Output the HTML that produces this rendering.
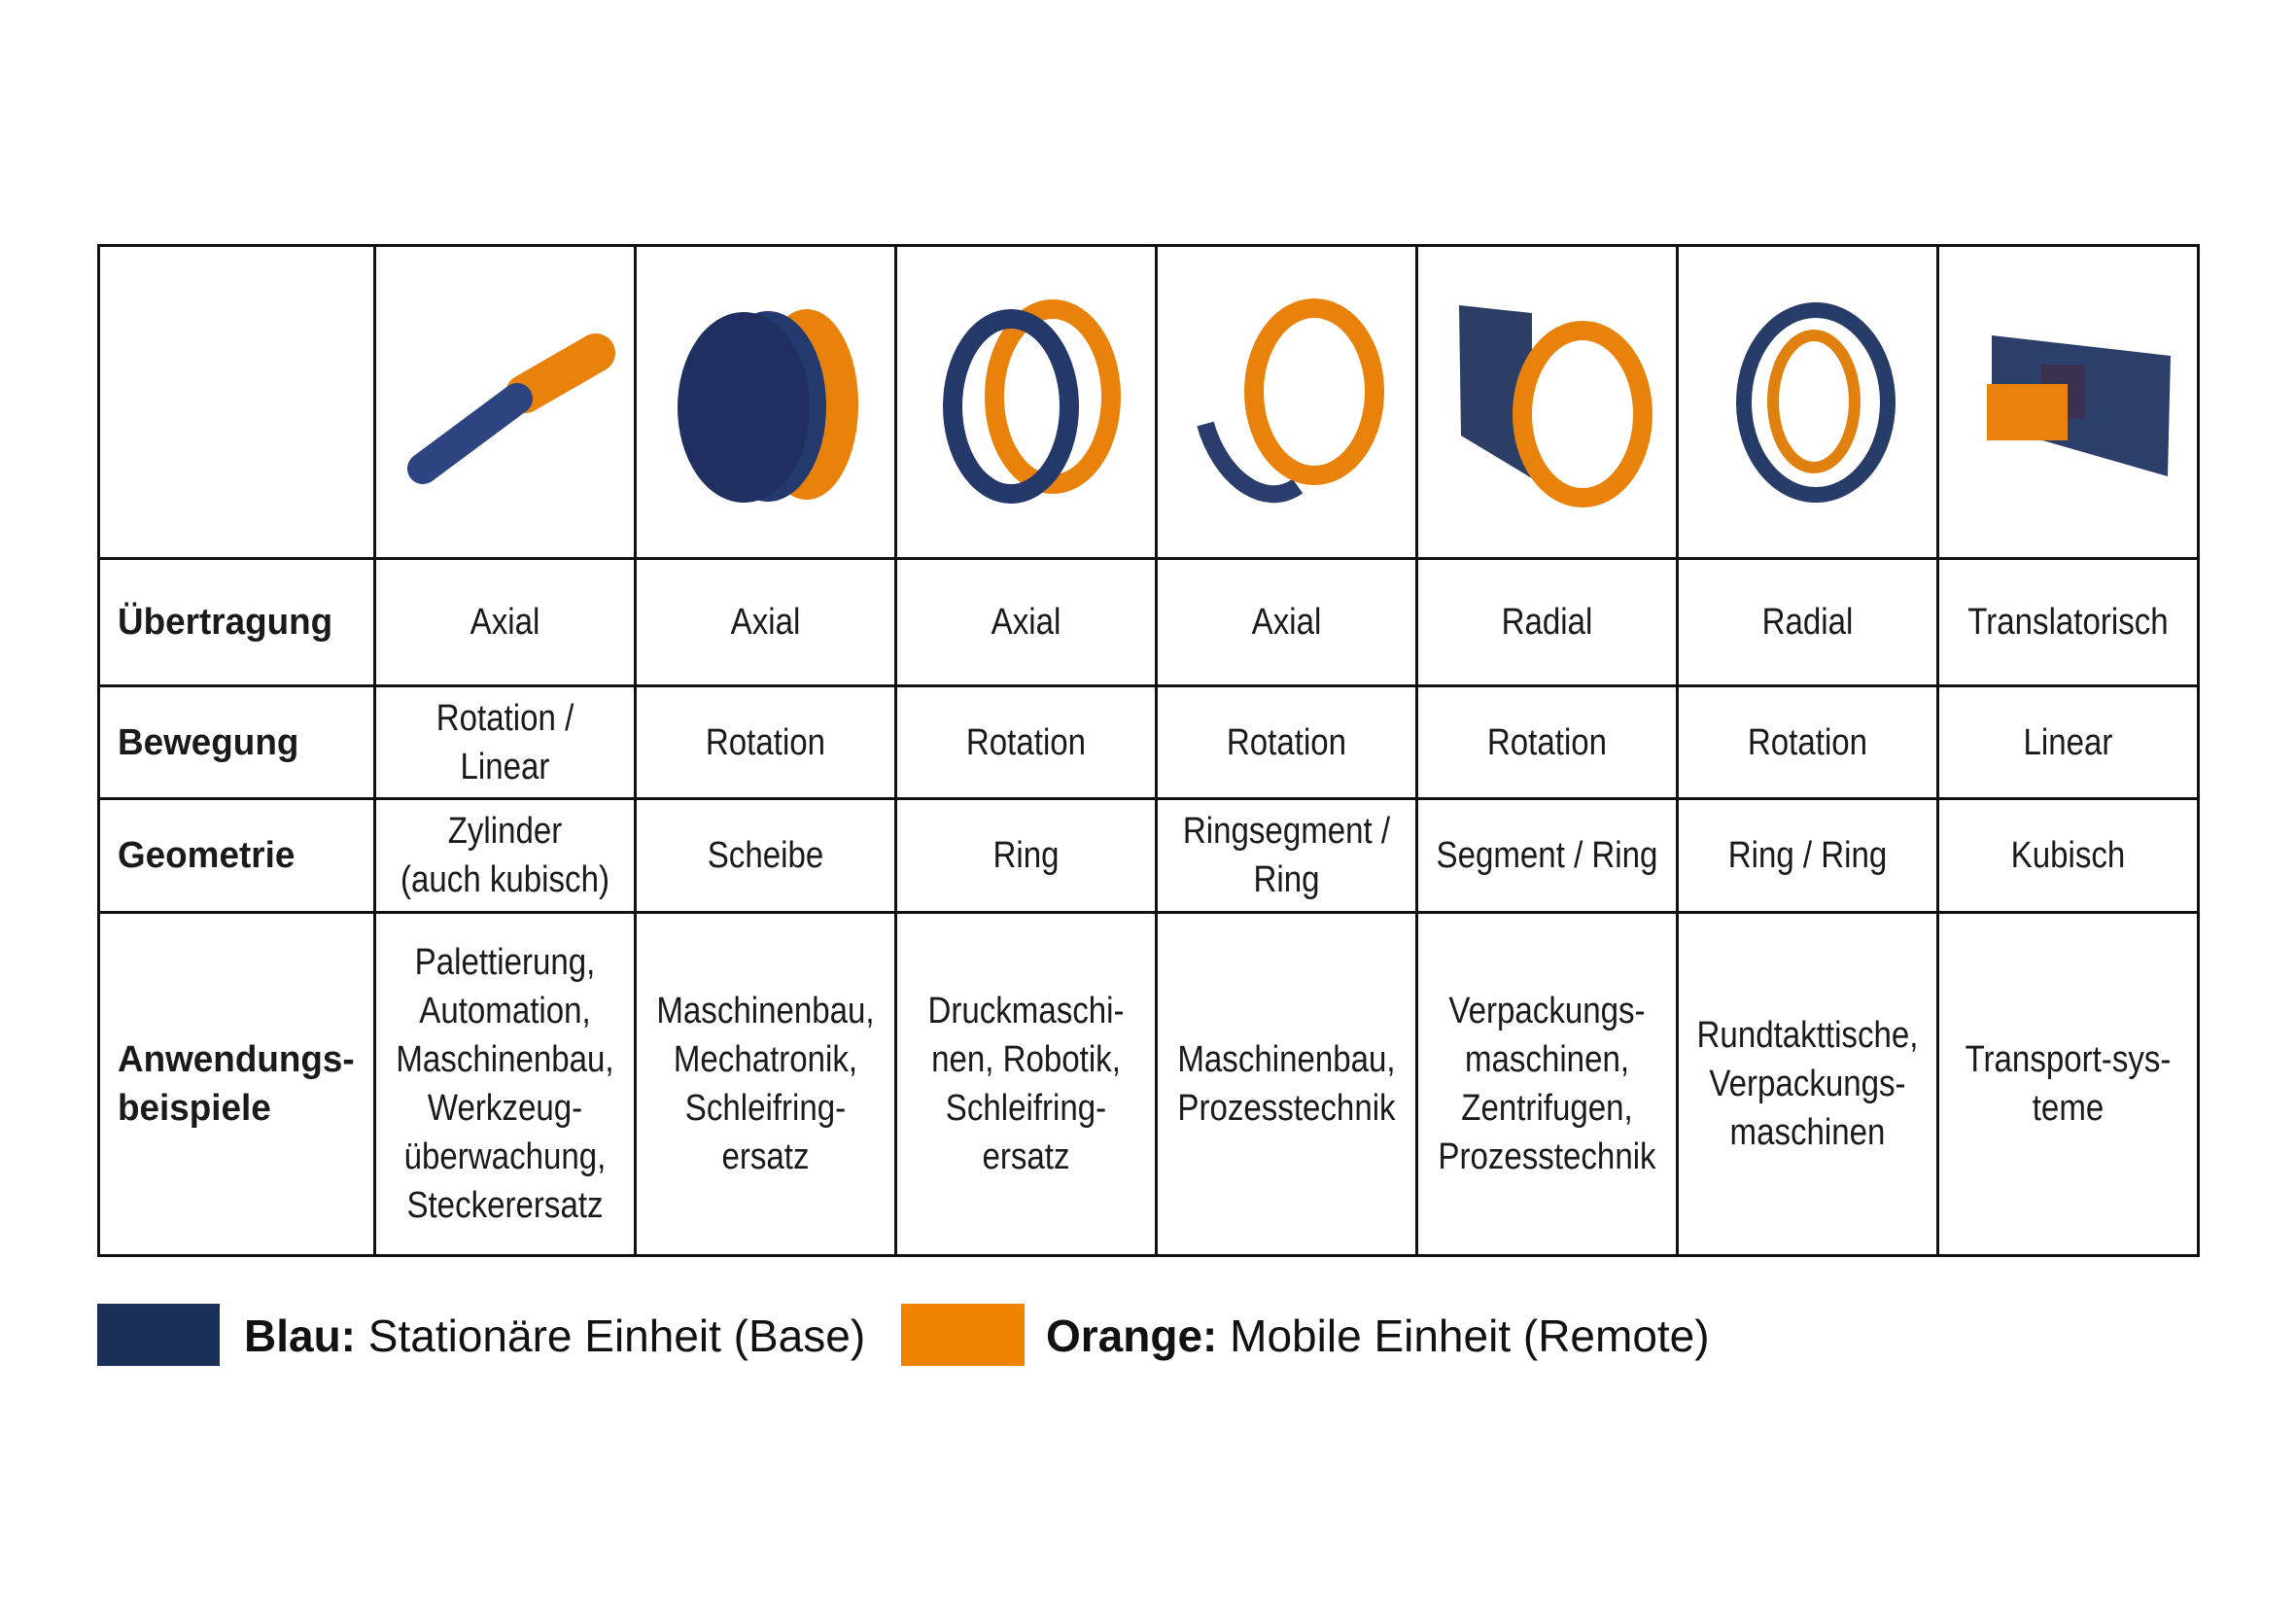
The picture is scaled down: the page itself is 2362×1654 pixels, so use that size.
<!DOCTYPE html>
<html><head><meta charset="utf-8"><style>
body{margin:0;width:2362px;height:1654px;background:#fff;position:relative;overflow:hidden;font-family:"Liberation Sans",sans-serif;}
table{position:absolute;left:100px;top:251px;border-collapse:collapse;table-layout:fixed;width:2160px;}
td{border:3px solid #111;text-align:center;vertical-align:middle;font-size:38px;line-height:50px;color:#1a1a1a;padding:0;overflow:visible;white-space:nowrap;}
td div{transform:scaleX(0.87);transform-origin:center;}
td.h{text-align:left;font-weight:bold;padding-left:18px;}
td.h div{transform:scaleX(0.97);transform-origin:left center;}
.leg{position:absolute;font-family:"Liberation Sans",sans-serif;font-size:46px;top:1344px;line-height:60px;color:#111;white-space:nowrap;}
</style></head><body>
<table>
<colgroup><col style="width:284px"><col style="width:268px"><col style="width:268px"><col style="width:268px"><col style="width:268px"><col style="width:268px"><col style="width:268px"><col style="width:268px"></colgroup>
<tr style="height:322px"><td></td><td></td><td></td><td></td><td></td><td></td><td></td><td></td></tr>
<tr style="height:131px"><td class="h"><div>Übertragung</div></td><td><div>Axial</div></td><td><div>Axial</div></td><td><div>Axial</div></td><td><div>Axial</div></td><td><div>Radial</div></td><td><div>Radial</div></td><td><div>Translatorisch</div></td></tr>
<tr style="height:116px"><td class="h"><div>Bewegung</div></td><td><div>Rotation /<br>Linear</div></td><td><div>Rotation</div></td><td><div>Rotation</div></td><td><div>Rotation</div></td><td><div>Rotation</div></td><td><div>Rotation</div></td><td><div>Linear</div></td></tr>
<tr style="height:117px"><td class="h"><div>Geometrie</div></td><td><div>Zylinder<br>(auch kubisch)</div></td><td><div>Scheibe</div></td><td><div>Ring</div></td><td><div>Ringsegment /<br>Ring</div></td><td><div>Segment / Ring</div></td><td><div>Ring / Ring</div></td><td><div>Kubisch</div></td></tr>
<tr style="height:353px"><td class="h"><div>Anwendungs-<br>beispiele</div></td><td><div>Palettierung,<br>Automation,<br>Maschinenbau,<br>Werkzeug-<br>überwachung,<br>Steckerersatz</div></td><td><div>Maschinenbau,<br>Mechatronik,<br>Schleifring-<br>ersatz</div></td><td><div>Druckmaschi-<br>nen, Robotik,<br>Schleifring-<br>ersatz</div></td><td><div>Maschinenbau,<br>Prozesstechnik</div></td><td><div>Verpackungs-<br>maschinen,<br>Zentrifugen,<br>Prozesstechnik</div></td><td><div>Rundtakttische,<br>Verpackungs-<br>maschinen</div></td><td><div>Transport-sys-<br>teme</div></td></tr>
</table>
<svg width="2362" height="1654" style="position:absolute;left:0;top:0">
<g fill="none">
<line x1="540" y1="405" x2="613" y2="363" stroke="#e8820a" stroke-width="40" stroke-linecap="round"/>
<line x1="435" y1="482" x2="532" y2="410" stroke="#2e4480" stroke-width="32" stroke-linecap="round"/>
<ellipse cx="830" cy="416" rx="53" ry="98" fill="#e8820a"/>
<ellipse cx="790" cy="418" rx="60" ry="98" fill="#243a6e"/>
<ellipse cx="765" cy="419" rx="68" ry="98" fill="#1f3060"/>
<ellipse cx="1083" cy="408" rx="60" ry="90" stroke="#e8820a" stroke-width="20"/>
<ellipse cx="1040" cy="418" rx="60" ry="90" stroke="#24386a" stroke-width="20"/>
<path d="M1240 436 C1255 490 1300 525 1335 500" stroke="#2a3d6c" stroke-width="18"/>
<ellipse cx="1352" cy="403" rx="62" ry="86" stroke="#e8820a" stroke-width="20"/>
<polygon points="1501,314 1576,322 1576,492 1503,448" fill="#2c3e66"/>
<ellipse cx="1628" cy="426" rx="62" ry="86" stroke="#e8820a" stroke-width="20"/>
<ellipse cx="1868" cy="414" rx="74" ry="95" stroke="#283c6a" stroke-width="16"/>
<ellipse cx="1866" cy="413" rx="42" ry="68" stroke="#e0800e" stroke-width="12"/>
<polygon points="2049,345 2233,366 2230,490 2049,438" fill="#2c3e6a"/>
<rect x="2100" y="375" width="45" height="55" fill="#3a3050"/>
<rect x="2044" y="395" width="83" height="58" fill="#e8820a"/>
</g>
<rect x="100" y="1341" width="126" height="64" fill="#1b3059"/>
<rect x="927" y="1341" width="127" height="64" fill="#f08300"/>
</svg>
<div class="leg" style="left:251px"><b>Blau:</b> Stationäre Einheit (Base)</div>
<div class="leg" style="left:1076px"><b>Orange:</b> Mobile Einheit (Remote)</div>
</body></html>
